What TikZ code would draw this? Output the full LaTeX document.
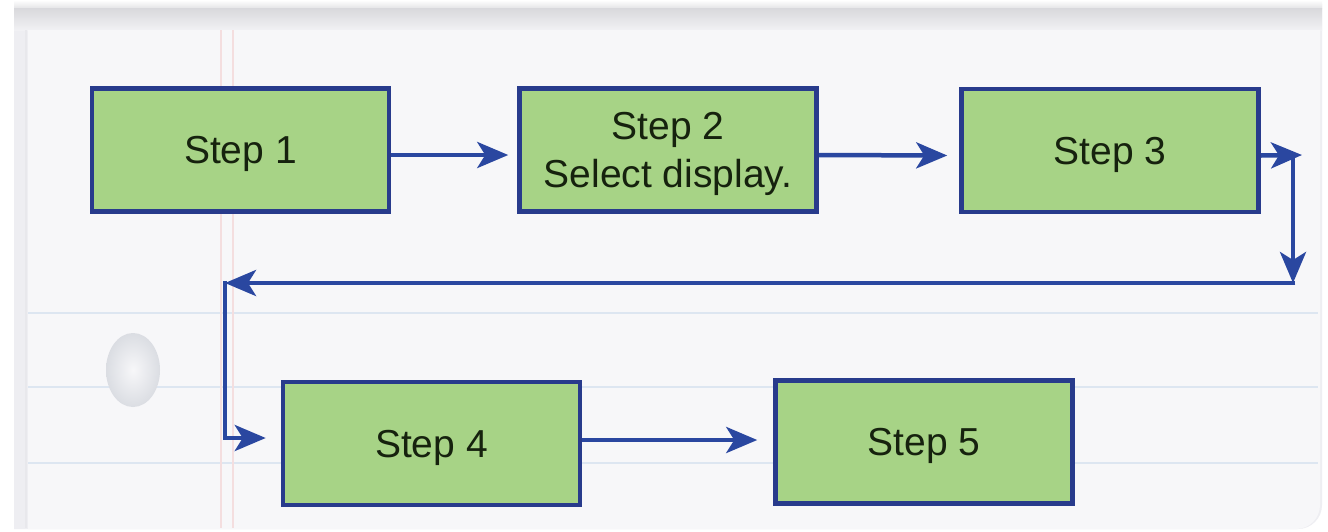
\documentclass[tikz,border=0pt]{standalone}
\usepackage{fontspec}
\setmainfont{Liberation Sans}
\usetikzlibrary{arrows.meta,calc}
\definecolor{paperbg}{HTML}{F7F7F9}
\definecolor{paperedge}{HTML}{E8E8EC}
\definecolor{sideedge}{HTML}{EEEEF2}
\definecolor{ruleblue}{HTML}{DDE6F1}
\definecolor{marginpink}{HTML}{F4DEDF}
\definecolor{boxgreen}{HTML}{A7D386}
\definecolor{boxline}{HTML}{283B8C}
\definecolor{arrowblue}{HTML}{2A47A0}
\definecolor{inkdark}{HTML}{16220E}
\tikzset{
  stepbox/.style={draw=boxline, line width=4.5pt, fill=boxgreen, rectangle,
    minimum width=297pt, minimum height=123pt, inner sep=0pt, text depth=0pt,
    text=inkdark, align=center, font=\fontsize{39}{48}\selectfont},
  flow/.style={draw=arrowblue, line width=4.5pt,
    -{Stealth[length=31pt,width=26pt,inset=8pt]}},
  ruled/.style={draw=ruleblue, line width=2pt},
  margin/.style={draw=marginpink, line width=2pt}
}
\begin{document}
\begin{tikzpicture}[x=1pt,y=-1pt]
\useasboundingbox (0,0) rectangle (1328,531);
\fill[white] (0,0) rectangle (1328,531);

% notebook sheet with its shadowed edge
\fill[sideedge] (14,4) -- (1322,4) -- (1322,505) arc[start angle=0, end angle=-90, radius=24pt] -- (14,529) -- cycle;
\shade[top color=white, bottom color=paperedge!80!gray!60] (14,0) rectangle (1322,8);
\shade[top color=paperedge!85!gray, bottom color=paperedge!40!paperbg] (14,8) rectangle (1322,30);
\fill[paperbg] (28,30) -- (1320,30) -- (1320,505) arc[start angle=0, end angle=-90, radius=24pt] -- (28,529) -- cycle;
\draw[paperedge, line width=2pt] (26,30) -- (26,528);

% ruled lines and margin
\foreach \yy in {313,387,463} \draw[ruled] (28,\yy) -- (1318,\yy);
\draw[margin] (221,30) -- (221,528);
\draw[margin] (233,30) -- (233,528);

% punched hole
\shade[inner color=paperbg, outer color=paperedge!70!ruleblue!90!gray]
  (133,370) ellipse [x radius=27pt, y radius=37pt];

% steps
\node[stepbox] (s1) at (240.5,150) {Step 1};
\node[stepbox] (s2) at (668,150) {Step 2\\Select display.};
\node[stepbox] (s3) at (1110,150.5) {Step 3};
\node[stepbox] (s4) at (431.5,443.5) {Step 4};
\node[stepbox] (s5) at (924,442) {Step 5};

% return path corners
\coordinate (r1) at (1302,155);
\coordinate (r2) at (1293,155);
\coordinate (r3) at (1293,283);
\coordinate (l1) at (225,283);

% connectors
\draw[flow] ([yshift=-5pt]s1.east) -- ([yshift=-5pt,xshift=-9pt]s2.west);
\draw[flow] ([yshift=-5pt]s2.east) -- ([yshift=-5pt,xshift=-12pt]s3.west);
\draw[flow] ([yshift=-5pt]s3.east) -- (r1);
\draw[flow] (r2) -- (r3);
\draw[flow] ([xshift=2.25pt]r3) -- (l1);
\draw[flow] ([yshift=2.25pt]l1) |- ([yshift=5.5pt,xshift=-15pt]s4.west);
\draw[flow] ([yshift=3.5pt]s4.east) -- ([yshift=2pt,xshift=-16pt]s5.west);
\end{tikzpicture}
\end{document}
